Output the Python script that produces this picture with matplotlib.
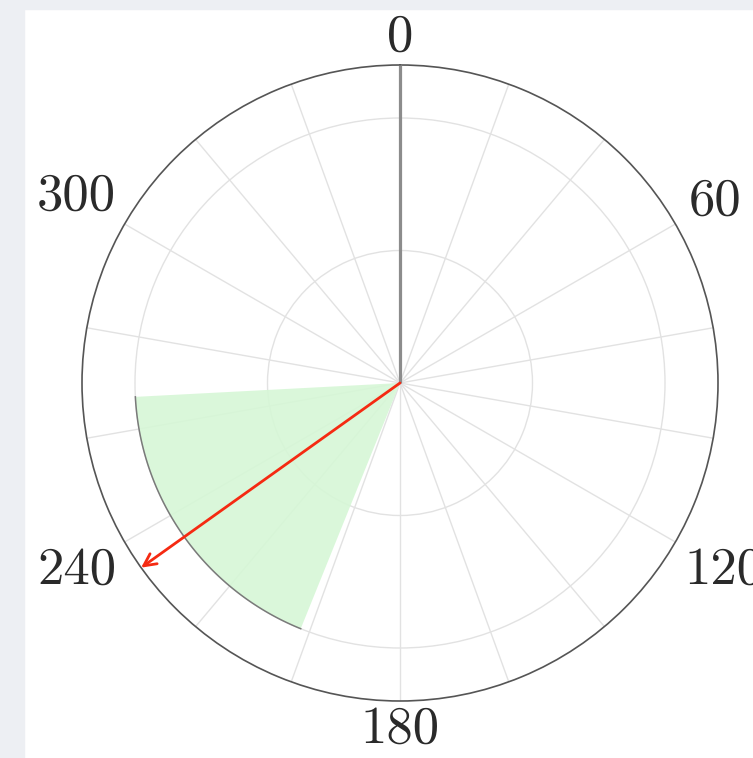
import numpy as np
import matplotlib
matplotlib.use("Agg")
import matplotlib.pyplot as plt
from matplotlib.patches import Rectangle

# data (degrees, clockwise from north)
tick_angles = [0, 60, 120, 180, 240, 300]
tick_labels = ["0", "60", "120", "180", "240", "300"]
grid_angles = list(range(0, 360, 20))
ring_radii = [0.5, 1.0]
r_max = 1.2
reference_heading = 0
wedge_start = 202
wedge_end = 267
wedge_radius = 1.0
arrow_heading = 234.5
arrow_length = 1.2

W, H = 753, 758
fig = plt.figure(figsize=(W / 100, H / 100), dpi=100)
fig.patch.set_facecolor("white")

# grey screenshot margin on the left and top
fig.patches.append(Rectangle((0, 0), 24 / W, 1, transform=fig.transFigure,
                             color="#edeff3", zorder=0))
fig.patches.append(Rectangle((0, 1 - 9 / H), 1, 9 / H, transform=fig.transFigure,
                             color="#edeff3", zorder=0))

cx, cy, R = 400, 383, 318
ax = fig.add_axes([(cx - R) / W, (H - cy - R) / H, 2 * R / W, 2 * R / H],
                  projection="polar")
ax.set_theta_zero_location("N")
ax.set_theta_direction(-1)
ax.set_ylim(0, r_max)

ax.set_xticks(np.deg2rad(grid_angles))
ax.set_xticklabels([])
ax.set_yticks(ring_radii)
ax.set_yticklabels([])
ax.grid(True, color="#e2e2e2", lw=1.0)
ax.spines["polar"].set_color("#555555")
ax.spines["polar"].set_linewidth(1.2)
ax.tick_params(length=0)

# green sector (grid only faintly visible through it)
t0, t1 = np.deg2rad(wedge_start), np.deg2rad(wedge_end)
ax.bar((t0 + t1) / 2, wedge_radius, width=t1 - t0, bottom=0,
       color="#d6f7d6", alpha=0.9, edgecolor="none", zorder=2.5)
arc = np.linspace(t0, t1, 100)
ax.plot(arc, np.full_like(arc, wedge_radius), color="#7a7a7a", lw=1.1, zorder=2.6)

# reference line at north
ax.plot([np.deg2rad(reference_heading)] * 2, [0, r_max], color="#8c8c8c",
        lw=2.3, zorder=3, solid_capstyle="butt")

# heading arrow
ax.annotate("", xy=(np.deg2rad(arrow_heading), arrow_length), xytext=(0, 0),
            arrowprops=dict(arrowstyle="->", color="#f52a12", lw=2.0,
                            mutation_scale=22, shrinkA=0, shrinkB=0),
            zorder=4)

# angle labels outside the circle
for ang, lab in zip(tick_angles, tick_labels):
    a = np.deg2rad(ang)
    half_w = 12.5 * len(lab)
    dist = R + 28 + 0.85 * abs(np.sin(a)) * half_w
    ax.text(a, dist / R * r_max, lab, ha="center", va="center",
            fontsize=38, family="cmr10", color="#2a2a2a", clip_on=False)

fig.savefig("out.png", dpi=100)
